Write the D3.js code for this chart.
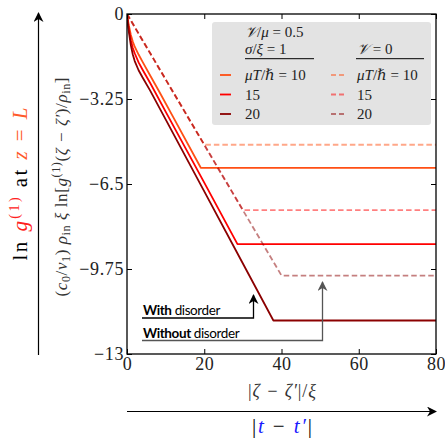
<!DOCTYPE html>
<html><head><meta charset="utf-8">
<script src="https://cdn.jsdelivr.net/npm/d3@7"></script>
<style>body{margin:0;background:#fff}svg{display:block}</style>
</head><body>
<svg id="c" width="445" height="439"></svg>
<script>
// ---- data ----
const xTicks = [0, 20, 40, 60, 80];
const yTicks = [0, -3.25, -6.5, -9.75, -13];
const yTickLabels = ["0", "\u22123.25", "\u22126.5", "\u22129.75", "\u221213"];
const xTickLabels = ["0", "20", "40", "60", "80"];
const temps = ["10", "15", "20"];
// with disorder (V/mu = 0.5, sigma/xi = 1) : solid
const solid10 = [[0,0],[0.25,-0.25],[0.5,-0.45],[1,-0.8],[1.5,-1.05],[2,-1.25],[3,-1.55],[4,-1.82],[6,-2.35],[8.4,-2.98],[12,-3.95],[19.1,-5.88],[80,-5.88]];
const solid15 = [[0,0],[0.25,-0.33],[0.5,-0.6],[1,-1.0],[1.5,-1.3],[2,-1.5],[3,-1.85],[4,-2.12],[6,-2.64],[10,-3.73],[20,-6.45],[28.6,-8.8],[80,-8.8]];
const solid20 = [[0,0],[0.25,-0.4],[0.5,-0.7],[1,-1.2],[1.5,-1.55],[2,-1.8],[3,-2.15],[4,-2.42],[6,-2.93],[10,-4.03],[20,-6.78],[30,-9.54],[37.9,-11.72],[80,-11.72]];
// without disorder (V = 0) : dashed
const dashed10 = [[0,0],[20,-5],[80,-5]];
const dashed15 = [[0,0],[30,-7.5],[80,-7.5]];
const dashed20 = [[0,0],[40,-10],[80,-10]];
const colors = ["#ff4f14", "#ff0000", "#8b0000"];

const svg = d3.select("#c");
const x = d3.scaleLinear().domain([0, 80]).range([127, 436]);
const y = d3.scaleLinear().domain([-13, 0]).range([354, 14]);
const serif = "'Liberation Serif', 'DejaVu Serif', serif";

svg.append("defs").append("clipPath").attr("id","clip")
  .append("rect").attr("x",x(0)).attr("y",y(0)).attr("width",x(80)-x(0)).attr("height",y(-13)-y(0));

const line = d3.line().x(d=>x(d[0])).y(d=>y(d[1]));
const g = svg.append("g").attr("clip-path","url(#clip)");
[solid10, solid15, solid20].forEach((s,i)=>{
  g.append("path").attr("d", line(s)).attr("fill","none").attr("stroke",colors[i]).attr("stroke-width",1.8).attr("stroke-linejoin","round");
});
[dashed10, dashed15, dashed20].forEach((s,i)=>{
  g.append("path").attr("d", line(s)).attr("fill","none")
   .attr("stroke",colors[i]).attr("stroke-opacity",0.5).attr("stroke-width",1.8).attr("stroke-dasharray","5.5,3");
});

// frame & ticks (inward)
svg.append("rect").attr("x",x(0)).attr("y",y(0)).attr("width",x(80)-x(0)).attr("height",y(-13)-y(0))
  .attr("fill","none").attr("stroke","#000").attr("stroke-width",1.3);
const axB = d3.axisBottom(x).tickValues(xTicks).tickSizeInner(-5).tickSizeOuter(0).tickFormat((d,i)=>xTickLabels[i]);
const axT = d3.axisTop(x).tickValues(xTicks).tickSizeInner(-5).tickSizeOuter(0).tickFormat("");
const axL = d3.axisLeft(y).tickValues(yTicks).tickSizeInner(-5).tickSizeOuter(0).tickFormat((d,i)=>yTickLabels[i]);
const axR = d3.axisRight(y).tickValues(yTicks).tickSizeInner(-5).tickSizeOuter(0).tickFormat("");
function style(sel){ sel.select(".domain").remove(); sel.selectAll("line").attr("stroke","#000").attr("stroke-width",1);
  sel.selectAll("text").attr("font-family",serif).attr("font-size",18).attr("letter-spacing",0.6).attr("fill","#222"); }
svg.append("g").attr("transform",`translate(0,${y(-13)})`).call(axB).call(style).selectAll("text").attr("dy","0.5em").attr("y",7);
svg.append("g").attr("transform",`translate(0,${y(0)})`).call(axT).call(style);
svg.append("g").attr("transform",`translate(${x(0)},0)`).call(axL).call(style).selectAll("text").attr("x",-3);
svg.append("g").attr("transform",`translate(${x(80)},0)`).call(axR).call(style);

// y label
const yl = svg.append("text").attr("transform","translate(67,187) rotate(-90)").attr("text-anchor","middle")
  .attr("font-family",serif).attr("font-size",17).attr("textLength",219).attr("lengthAdjust","spacing").attr("fill","#333");
yl.append("tspan").text("(");
yl.append("tspan").attr("font-style","italic").text("c");
yl.append("tspan").attr("font-size",12).attr("dy",3).text("0");
yl.append("tspan").attr("dy",-3).text("/");
yl.append("tspan").attr("font-style","italic").text("v");
yl.append("tspan").attr("font-size",12).attr("dy",3).text("1");
yl.append("tspan").attr("dy",-3).text(") ");
yl.append("tspan").attr("font-style","italic").text("\u03C1");
yl.append("tspan").attr("font-size",12).attr("dy",3).text("in");
yl.append("tspan").attr("dy",-3).attr("font-style","italic").text(" \u03BE ");
yl.append("tspan").text(" ln[");
yl.append("tspan").attr("font-style","italic").text("g");
yl.append("tspan").attr("font-size",12).attr("dy",-7).text("(1)");
yl.append("tspan").attr("dy",7).text("(");
yl.append("tspan").attr("font-style","italic").text("\u03B6 \u2212 \u03B6\u2032");
yl.append("tspan").text(")/");
yl.append("tspan").attr("font-style","italic").text("\u03C1");
yl.append("tspan").attr("font-size",12).attr("dy",3).text("in");
yl.append("tspan").attr("dy",-3).text("]");

// outer y label
const ol = svg.append("text").attr("transform","translate(27,184) rotate(-90)").attr("text-anchor","middle")
  .attr("font-family",serif).attr("font-size",21).attr("textLength",153).attr("lengthAdjust","spacing").attr("fill","#000");
ol.append("tspan").text("ln ");
ol.append("tspan").attr("font-style","italic").attr("fill","#ff2020").text("g");
ol.append("tspan").attr("font-size",14).attr("dy",-8).attr("fill","#ff2020").text("(1)");
ol.append("tspan").attr("dy",8).text(" at ");
ol.append("tspan").attr("font-style","italic").attr("fill","#ff5a2a").text("z");
ol.append("tspan").attr("fill","#ff5a2a").text(" = ");
ol.append("tspan").attr("font-style","italic").attr("fill","#ff5a2a").text("L");

// arrows
const defs = svg.select("defs");
function marker(id, col){
  defs.append("marker").attr("id",id).attr("viewBox","0 0 10 10").attr("refX",9).attr("refY",5)
   .attr("markerWidth",10).attr("markerHeight",10).attr("markerUnits","userSpaceOnUse").attr("orient","auto")
   .append("path").attr("d","M0,0 L10,5 L0,10 L3,5 Z").attr("fill",col);
}
marker("ah","#000"); marker("ahg","#555");
svg.append("line").attr("x1",38.5).attr("y1",355).attr("x2",38.5).attr("y2",13).attr("stroke","#000").attr("stroke-width",1.2).attr("marker-end","url(#ah)");
svg.append("line").attr("x1",127).attr("y1",411.5).attr("x2",436).attr("y2",411.5).attr("stroke","#000").attr("stroke-width",1.2).attr("marker-end","url(#ah)");

// x label
const xl = svg.append("text").attr("x",282).attr("y",397).attr("text-anchor","middle").attr("font-family",serif).attr("font-size",18).attr("textLength",68).attr("lengthAdjust","spacing").attr("fill","#333");
xl.append("tspan").text("|");
xl.append("tspan").attr("font-style","italic").text("\u03B6 \u2212 \u03B6\u2032");
xl.append("tspan").text("|/");
xl.append("tspan").attr("font-style","italic").text("\u03BE");
const tl = svg.append("text").attr("x",282).attr("y",433).attr("text-anchor","middle").attr("font-family",serif).attr("font-size",21).attr("textLength",60).attr("lengthAdjust","spacing").attr("fill","#000");
tl.append("tspan").text("|");
tl.append("tspan").attr("font-style","italic").attr("fill","#1a1aff").text("t");
tl.append("tspan").text(" \u2212 ");
tl.append("tspan").attr("font-style","italic").attr("fill","#1a1aff").text("t\u2032");
tl.append("tspan").text("|");

// annotations
const sans = "Lato, 'Open Sans', sans-serif";
function annot(label, ty, lx, tipY, col){
  const t = svg.append("text").attr("x",143).attr("y",ty).attr("font-family",sans).attr("font-size",13.5).attr("letter-spacing",-0.4).attr("fill","#000");
  t.append("tspan").attr("font-weight","bold").text(label);
  t.append("tspan").text(" disorder");
  svg.append("path").attr("d",`M142,${ty+3} L${lx},${ty+3} L${lx},${tipY}`).attr("fill","none").attr("stroke",col).attr("stroke-width",1.3).attr("marker-end",`url(#${col==="#000"?"ah":"ahg"})`);
}
annot("With", 315, 253.5, 295, "#000");
annot("Without", 337.5, 322.5, 282, "#555");

// legend
const lg = svg.append("g");
lg.append("rect").attr("x",212).attr("y",22).attr("width",219).attr("height",103).attr("rx",3).attr("fill","#e3e3e3");
function mtext(xp, yp, parts){
  const t = lg.append("text").attr("x",xp).attr("y",yp).attr("font-family",serif).attr("font-size",15).attr("fill","#222");
  parts.forEach(p=>t.append("tspan").attr("font-style",p[1]?"italic":"normal").text(p[0]));
}
mtext(245, 37, [["\uD835\uDCB1",true],["/",false],["\u03BC",true],[" = 0.5",false]]);
mtext(245, 54, [["\u03C3",true],["/",false],["\u03BE",true],[" = 1",false]]);
mtext(357, 54, [["\uD835\uDCB1",true],[" = 0",false]]);
lg.append("line").attr("x1",245).attr("x2",314).attr("y1",58.7).attr("y2",58.7).attr("stroke","#000").attr("stroke-width",1);
lg.append("line").attr("x1",356).attr("x2",424).attr("y1",58.7).attr("y2",58.7).attr("stroke","#000").attr("stroke-width",1);
const rowsY = [75, 94.5, 114];
temps.forEach((tv,i)=>{
  lg.append("line").attr("x1",220).attr("x2",231).attr("y1",rowsY[i]).attr("y2",rowsY[i]).attr("stroke",colors[i]).attr("stroke-width",1.8);
  lg.append("line").attr("x1",331).attr("x2",347).attr("y1",rowsY[i]).attr("y2",rowsY[i]).attr("stroke",colors[i]).attr("stroke-opacity",0.5).attr("stroke-width",1.8).attr("stroke-dasharray","5,3");
  const parts = i===0 ? [["\u03BC",true],["T",true],["/",false],["\u210F",true],[" = 10",false]] : [[tv,false]];
  mtext(245, rowsY[i]+5, parts);
  mtext(357, rowsY[i]+5, parts);
});
</script>
</body></html>
